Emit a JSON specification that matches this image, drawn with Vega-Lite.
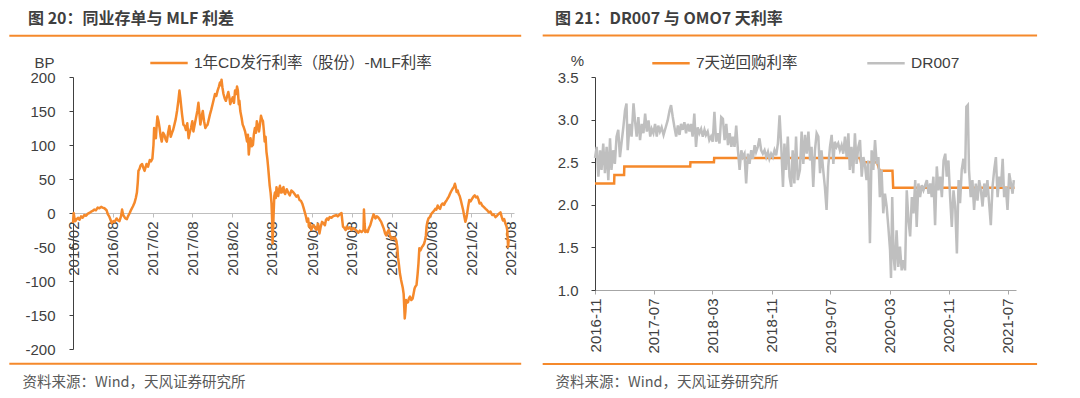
{
  "$schema": "https://vega.github.io/schema/vega-lite/v6.json",
  "background": "white",
  "padding": {"left": 8, "top": 10, "right": 5, "bottom": 5},
  "spacing": 18,
  "config": {
    "locale": {"number": {"decimal": ".", "thousands": ",", "grouping": [3], "currency": ["", ""], "minus": "-"}},
    "view": {"stroke": null},
    "axis": {"grid": false, "labelFont": "Liberation Sans", "labelColor": "#404040", "labelFontSize": 15, "labelFlush": false, "labelOverlap": false}
  },
  "resolve": {"scale": {"color": "independent"}, "legend": {"color": "independent"}},
  "datasets": {
    "cd": [
      {"d":"2016-02-01","v":-15},{"d":"2016-02-04","v":0},{"d":"2016-02-08","v":-8},{"d":"2016-02-12","v":-12},{"d":"2016-02-18","v":-9},{"d":"2016-02-24","v":-7},{"d":"2016-03-02","v":-10},{"d":"2016-03-09","v":-5},{"d":"2016-03-16","v":-7},{"d":"2016-03-24","v":-3},{"d":"2016-04-01","v":-4},{"d":"2016-04-09","v":-1},{"d":"2016-04-16","v":0},{"d":"2016-04-24","v":2},{"d":"2016-05-01","v":3},{"d":"2016-05-09","v":5},{"d":"2016-05-16","v":4},{"d":"2016-05-24","v":8},{"d":"2016-06-01","v":7},{"d":"2016-06-09","v":9},{"d":"2016-06-16","v":8},{"d":"2016-06-24","v":7},{"d":"2016-07-04","v":4},{"d":"2016-07-10","v":-2},{"d":"2016-07-16","v":-5},{"d":"2016-07-22","v":-10},{"d":"2016-07-28","v":-15},{"d":"2016-08-04","v":-12},{"d":"2016-08-10","v":-13},{"d":"2016-08-19","v":-8},{"d":"2016-08-26","v":-11},{"d":"2016-09-01","v":-12},{"d":"2016-09-08","v":-5},{"d":"2016-09-13","v":5},{"d":"2016-09-18","v":-3},{"d":"2016-09-28","v":-8},{"d":"2016-10-05","v":-9},{"d":"2016-10-10","v":-5},{"d":"2016-10-18","v":0},{"d":"2016-10-25","v":5},{"d":"2016-11-02","v":10},{"d":"2016-11-09","v":15},{"d":"2016-11-15","v":22},{"d":"2016-11-20","v":30},{"d":"2016-11-24","v":45},{"d":"2016-11-27","v":62},{"d":"2016-12-02","v":65},{"d":"2016-12-07","v":70},{"d":"2016-12-14","v":72},{"d":"2016-12-20","v":66},{"d":"2016-12-25","v":62},{"d":"2017-01-03","v":72},{"d":"2017-01-10","v":68},{"d":"2017-01-18","v":78},{"d":"2017-01-24","v":76},{"d":"2017-01-30","v":80},{"d":"2017-02-04","v":100},{"d":"2017-02-07","v":125},{"d":"2017-02-11","v":118},{"d":"2017-02-15","v":110},{"d":"2017-02-19","v":130},{"d":"2017-02-22","v":142},{"d":"2017-02-27","v":135},{"d":"2017-03-04","v":125},{"d":"2017-03-09","v":112},{"d":"2017-03-14","v":105},{"d":"2017-03-20","v":118},{"d":"2017-03-26","v":115},{"d":"2017-04-01","v":108},{"d":"2017-04-06","v":105},{"d":"2017-04-12","v":118},{"d":"2017-04-18","v":128},{"d":"2017-04-24","v":112},{"d":"2017-04-30","v":118},{"d":"2017-05-05","v":122},{"d":"2017-05-11","v":130},{"d":"2017-05-17","v":138},{"d":"2017-05-23","v":150},{"d":"2017-05-29","v":165},{"d":"2017-06-03","v":180},{"d":"2017-06-07","v":170},{"d":"2017-06-10","v":160},{"d":"2017-06-15","v":145},{"d":"2017-06-21","v":130},{"d":"2017-06-27","v":128},{"d":"2017-07-03","v":122},{"d":"2017-07-09","v":132},{"d":"2017-07-15","v":110},{"d":"2017-07-20","v":118},{"d":"2017-07-26","v":125},{"d":"2017-08-01","v":135},{"d":"2017-08-06","v":120},{"d":"2017-08-12","v":130},{"d":"2017-08-18","v":140},{"d":"2017-08-24","v":150},{"d":"2017-08-29","v":162},{"d":"2017-09-03","v":145},{"d":"2017-09-07","v":130},{"d":"2017-09-13","v":142},{"d":"2017-09-18","v":150},{"d":"2017-09-24","v":135},{"d":"2017-09-30","v":125},{"d":"2017-10-05","v":128},{"d":"2017-10-10","v":130},{"d":"2017-10-16","v":138},{"d":"2017-10-21","v":145},{"d":"2017-10-27","v":152},{"d":"2017-11-02","v":160},{"d":"2017-11-08","v":168},{"d":"2017-11-13","v":175},{"d":"2017-11-19","v":172},{"d":"2017-11-25","v":180},{"d":"2017-12-01","v":186},{"d":"2017-12-06","v":192},{"d":"2017-12-10","v":188},{"d":"2017-12-13","v":196},{"d":"2017-12-17","v":185},{"d":"2017-12-22","v":175},{"d":"2017-12-28","v":168},{"d":"2018-01-02","v":165},{"d":"2018-01-08","v":172},{"d":"2018-01-13","v":178},{"d":"2018-01-18","v":170},{"d":"2018-01-22","v":160},{"d":"2018-01-28","v":166},{"d":"2018-02-02","v":170},{"d":"2018-02-08","v":162},{"d":"2018-02-13","v":180},{"d":"2018-02-18","v":175},{"d":"2018-02-22","v":186},{"d":"2018-02-26","v":180},{"d":"2018-03-02","v":160},{"d":"2018-03-05","v":165},{"d":"2018-03-09","v":150},{"d":"2018-03-15","v":140},{"d":"2018-03-20","v":130},{"d":"2018-03-25","v":126},{"d":"2018-03-31","v":120},{"d":"2018-04-05","v":112},{"d":"2018-04-09","v":105},{"d":"2018-04-13","v":115},{"d":"2018-04-17","v":86},{"d":"2018-04-21","v":100},{"d":"2018-04-25","v":110},{"d":"2018-04-30","v":98},{"d":"2018-05-06","v":100},{"d":"2018-05-10","v":115},{"d":"2018-05-15","v":125},{"d":"2018-05-20","v":118},{"d":"2018-05-24","v":135},{"d":"2018-05-29","v":128},{"d":"2018-06-03","v":120},{"d":"2018-06-08","v":132},{"d":"2018-06-12","v":143},{"d":"2018-06-16","v":138},{"d":"2018-06-21","v":135},{"d":"2018-06-25","v":122},{"d":"2018-06-29","v":105},{"d":"2018-07-03","v":112},{"d":"2018-07-07","v":90},{"d":"2018-07-11","v":80},{"d":"2018-07-14","v":70},{"d":"2018-07-18","v":55},{"d":"2018-07-22","v":40},{"d":"2018-07-26","v":30},{"d":"2018-07-30","v":15},{"d":"2018-08-02","v":-10},{"d":"2018-08-04","v":-45},{"d":"2018-08-07","v":-20},{"d":"2018-08-09","v":0},{"d":"2018-08-12","v":25},{"d":"2018-08-15","v":30},{"d":"2018-08-19","v":22},{"d":"2018-08-22","v":38},{"d":"2018-08-26","v":28},{"d":"2018-08-30","v":25},{"d":"2018-09-03","v":35},{"d":"2018-09-07","v":40},{"d":"2018-09-11","v":30},{"d":"2018-09-15","v":30},{"d":"2018-09-19","v":36},{"d":"2018-09-23","v":38},{"d":"2018-09-27","v":30},{"d":"2018-10-01","v":28},{"d":"2018-10-08","v":35},{"d":"2018-10-15","v":30},{"d":"2018-10-22","v":26},{"d":"2018-10-29","v":33},{"d":"2018-11-06","v":31},{"d":"2018-11-13","v":28},{"d":"2018-11-21","v":24},{"d":"2018-11-28","v":26},{"d":"2018-12-06","v":19},{"d":"2018-12-12","v":18},{"d":"2018-12-18","v":14},{"d":"2018-12-24","v":8},{"d":"2018-12-29","v":2},{"d":"2019-01-04","v":-5},{"d":"2019-01-09","v":-13},{"d":"2019-01-14","v":-8},{"d":"2019-01-18","v":-20},{"d":"2019-01-23","v":-15},{"d":"2019-01-28","v":-25},{"d":"2019-02-04","v":-20},{"d":"2019-02-09","v":-18},{"d":"2019-02-15","v":-22},{"d":"2019-02-21","v":-25},{"d":"2019-03-01","v":-16},{"d":"2019-03-07","v":-30},{"d":"2019-03-13","v":-20},{"d":"2019-03-19","v":-13},{"d":"2019-03-25","v":-15},{"d":"2019-04-01","v":-18},{"d":"2019-04-06","v":-10},{"d":"2019-04-11","v":-8},{"d":"2019-04-17","v":-10},{"d":"2019-04-23","v":-6},{"d":"2019-05-01","v":-7},{"d":"2019-05-08","v":-5},{"d":"2019-05-15","v":-4},{"d":"2019-05-23","v":-3},{"d":"2019-05-30","v":-5},{"d":"2019-06-08","v":-2},{"d":"2019-06-16","v":0},{"d":"2019-06-20","v":-12},{"d":"2019-06-23","v":-20},{"d":"2019-06-29","v":-22},{"d":"2019-07-05","v":-25},{"d":"2019-07-10","v":-20},{"d":"2019-07-16","v":-23},{"d":"2019-07-24","v":-21},{"d":"2019-08-01","v":-25},{"d":"2019-08-08","v":-22},{"d":"2019-08-16","v":-24},{"d":"2019-08-24","v":-26},{"d":"2019-09-01","v":-29},{"d":"2019-09-08","v":-26},{"d":"2019-09-16","v":-28},{"d":"2019-09-25","v":-25},{"d":"2019-09-27","v":5},{"d":"2019-09-30","v":-15},{"d":"2019-10-03","v":-28},{"d":"2019-10-09","v":-26},{"d":"2019-10-14","v":-28},{"d":"2019-10-20","v":-22},{"d":"2019-10-26","v":-18},{"d":"2019-11-02","v":-10},{"d":"2019-11-10","v":-2},{"d":"2019-11-15","v":-5},{"d":"2019-11-19","v":-8},{"d":"2019-11-25","v":-5},{"d":"2019-11-30","v":-6},{"d":"2019-12-07","v":-9},{"d":"2019-12-15","v":-13},{"d":"2019-12-21","v":-18},{"d":"2019-12-27","v":-23},{"d":"2020-01-02","v":-30},{"d":"2020-01-07","v":-33},{"d":"2020-01-13","v":-28},{"d":"2020-01-19","v":-25},{"d":"2020-01-24","v":-32},{"d":"2020-01-30","v":-38},{"d":"2020-02-05","v":-36},{"d":"2020-02-10","v":-38},{"d":"2020-02-16","v":-36},{"d":"2020-02-22","v":-40},{"d":"2020-02-27","v":-50},{"d":"2020-03-01","v":-65},{"d":"2020-03-05","v":-75},{"d":"2020-03-10","v":-89},{"d":"2020-03-15","v":-98},{"d":"2020-03-19","v":-104},{"d":"2020-03-23","v":-110},{"d":"2020-03-27","v":-119},{"d":"2020-03-30","v":-140},{"d":"2020-04-01","v":-155},{"d":"2020-04-04","v":-145},{"d":"2020-04-07","v":-128},{"d":"2020-04-11","v":-132},{"d":"2020-04-16","v":-131},{"d":"2020-04-20","v":-126},{"d":"2020-04-25","v":-123},{"d":"2020-05-01","v":-128},{"d":"2020-05-07","v":-126},{"d":"2020-05-12","v":-118},{"d":"2020-05-16","v":-111},{"d":"2020-05-20","v":-108},{"d":"2020-05-25","v":-106},{"d":"2020-05-30","v":-90},{"d":"2020-06-03","v":-74},{"d":"2020-06-07","v":-52},{"d":"2020-06-12","v":-55},{"d":"2020-06-19","v":-50},{"d":"2020-06-24","v":-48},{"d":"2020-06-29","v":-45},{"d":"2020-07-03","v":-40},{"d":"2020-07-07","v":-33},{"d":"2020-07-10","v":-20},{"d":"2020-07-14","v":-13},{"d":"2020-07-19","v":-8},{"d":"2020-07-25","v":-6},{"d":"2020-07-31","v":-2},{"d":"2020-08-07","v":1},{"d":"2020-08-13","v":3},{"d":"2020-08-19","v":6},{"d":"2020-08-24","v":5},{"d":"2020-08-30","v":11},{"d":"2020-09-04","v":8},{"d":"2020-09-10","v":6},{"d":"2020-09-16","v":12},{"d":"2020-09-22","v":14},{"d":"2020-09-28","v":12},{"d":"2020-10-04","v":16},{"d":"2020-10-09","v":18},{"d":"2020-10-14","v":21},{"d":"2020-10-20","v":24},{"d":"2020-10-25","v":28},{"d":"2020-10-31","v":32},{"d":"2020-11-07","v":36},{"d":"2020-11-12","v":38},{"d":"2020-11-17","v":43},{"d":"2020-11-21","v":38},{"d":"2020-11-25","v":31},{"d":"2020-11-30","v":33},{"d":"2020-12-04","v":28},{"d":"2020-12-09","v":25},{"d":"2020-12-14","v":19},{"d":"2020-12-19","v":12},{"d":"2020-12-25","v":4},{"d":"2020-12-30","v":-5},{"d":"2021-01-04","v":-13},{"d":"2021-01-08","v":-8},{"d":"2021-01-11","v":-3},{"d":"2021-01-16","v":8},{"d":"2021-01-22","v":19},{"d":"2021-01-28","v":17},{"d":"2021-02-04","v":21},{"d":"2021-02-10","v":24},{"d":"2021-02-16","v":26},{"d":"2021-02-22","v":23},{"d":"2021-02-28","v":24},{"d":"2021-03-05","v":20},{"d":"2021-03-10","v":14},{"d":"2021-03-16","v":15},{"d":"2021-03-22","v":11},{"d":"2021-03-29","v":9},{"d":"2021-04-07","v":6},{"d":"2021-04-14","v":4},{"d":"2021-04-22","v":1},{"d":"2021-04-29","v":2},{"d":"2021-05-07","v":-3},{"d":"2021-05-14","v":-2},{"d":"2021-05-22","v":-6},{"d":"2021-05-29","v":-4},{"d":"2021-06-07","v":-1},{"d":"2021-06-14","v":1},{"d":"2021-06-19","v":-5},{"d":"2021-06-25","v":-11},{"d":"2021-07-01","v":-9},{"d":"2021-07-07","v":-16},{"d":"2021-07-12","v":-20},{"d":"2021-07-15","v":-25},{"d":"2021-07-19","v":-50},{"d":"2021-07-22","v":-38}
    ],
    "omo": [
      {"d":"2016-11-15","v":2.25},{"d":"2017-02-02","v":2.25},{"d":"2017-02-03","v":2.35},{"d":"2017-03-15","v":2.35},{"d":"2017-03-16","v":2.45},{"d":"2017-12-13","v":2.45},{"d":"2017-12-14","v":2.5},{"d":"2018-03-21","v":2.5},{"d":"2018-03-22","v":2.55},{"d":"2019-11-15","v":2.55},{"d":"2019-11-18","v":2.5},{"d":"2020-01-23","v":2.5},{"d":"2020-02-03","v":2.4},{"d":"2020-03-27","v":2.4},{"d":"2020-03-30","v":2.2},{"d":"2021-08-13","v":2.2}
    ],
    "dr": [
      {"d":"2016-11-15","v":2.55},{"d":"2016-11-22","v":2.68},{"d":"2016-11-29","v":2.33},{"d":"2016-12-06","v":2.64},{"d":"2016-12-12","v":2.41},{"d":"2016-12-19","v":2.72},{"d":"2016-12-26","v":2.37},{"d":"2017-01-02","v":2.68},{"d":"2017-01-09","v":2.29},{"d":"2017-01-16","v":2.78},{"d":"2017-01-22","v":2.41},{"d":"2017-01-29","v":2.64},{"d":"2017-02-05","v":2.48},{"d":"2017-02-12","v":2.8},{"d":"2017-02-19","v":2.88},{"d":"2017-02-26","v":2.56},{"d":"2017-03-05","v":2.74},{"d":"2017-03-12","v":2.91},{"d":"2017-03-19","v":3.11},{"d":"2017-03-25","v":3.19},{"d":"2017-03-30","v":2.64},{"d":"2017-04-07","v":2.95},{"d":"2017-04-15","v":2.8},{"d":"2017-04-23","v":3.19},{"d":"2017-04-29","v":2.99},{"d":"2017-05-06","v":2.8},{"d":"2017-05-13","v":3.03},{"d":"2017-05-20","v":2.76},{"d":"2017-05-27","v":2.95},{"d":"2017-06-03","v":2.84},{"d":"2017-06-10","v":3.07},{"d":"2017-06-17","v":2.86},{"d":"2017-06-24","v":2.99},{"d":"2017-07-01","v":2.8},{"d":"2017-07-07","v":2.89},{"d":"2017-07-14","v":2.84},{"d":"2017-07-21","v":2.95},{"d":"2017-07-28","v":2.8},{"d":"2017-08-03","v":2.93},{"d":"2017-08-10","v":2.86},{"d":"2017-08-17","v":2.91},{"d":"2017-08-25","v":2.82},{"d":"2017-09-03","v":2.91},{"d":"2017-09-11","v":2.99},{"d":"2017-09-19","v":3.11},{"d":"2017-09-25","v":3.17},{"d":"2017-10-02","v":3.03},{"d":"2017-10-09","v":2.91},{"d":"2017-10-16","v":2.8},{"d":"2017-10-23","v":2.93},{"d":"2017-10-30","v":2.82},{"d":"2017-11-05","v":2.95},{"d":"2017-11-12","v":2.88},{"d":"2017-11-19","v":2.97},{"d":"2017-11-26","v":2.84},{"d":"2017-12-03","v":2.95},{"d":"2017-12-10","v":2.86},{"d":"2017-12-16","v":2.95},{"d":"2017-12-23","v":2.8},{"d":"2017-12-30","v":3.07},{"d":"2018-01-06","v":2.68},{"d":"2018-01-13","v":2.91},{"d":"2018-01-20","v":2.84},{"d":"2018-01-27","v":2.89},{"d":"2018-02-03","v":2.8},{"d":"2018-02-10","v":2.88},{"d":"2018-02-16","v":2.82},{"d":"2018-02-23","v":2.86},{"d":"2018-03-02","v":2.76},{"d":"2018-03-09","v":2.8},{"d":"2018-03-16","v":2.74},{"d":"2018-03-23","v":3.09},{"d":"2018-03-30","v":2.74},{"d":"2018-04-06","v":2.84},{"d":"2018-04-13","v":2.72},{"d":"2018-04-20","v":3.03},{"d":"2018-04-27","v":3.01},{"d":"2018-05-04","v":2.76},{"d":"2018-05-11","v":2.95},{"d":"2018-05-18","v":2.7},{"d":"2018-05-25","v":2.84},{"d":"2018-06-01","v":2.68},{"d":"2018-06-07","v":2.8},{"d":"2018-06-14","v":2.68},{"d":"2018-06-21","v":2.93},{"d":"2018-06-28","v":2.64},{"d":"2018-07-05","v":2.41},{"d":"2018-07-12","v":2.64},{"d":"2018-07-18","v":2.56},{"d":"2018-07-25","v":2.6},{"d":"2018-08-01","v":2.25},{"d":"2018-08-08","v":2.6},{"d":"2018-08-15","v":2.48},{"d":"2018-08-22","v":2.64},{"d":"2018-08-29","v":2.54},{"d":"2018-09-05","v":2.7},{"d":"2018-09-11","v":2.62},{"d":"2018-09-18","v":2.68},{"d":"2018-09-25","v":2.78},{"d":"2018-10-02","v":2.64},{"d":"2018-10-09","v":2.6},{"d":"2018-10-16","v":2.64},{"d":"2018-10-23","v":2.56},{"d":"2018-10-30","v":2.62},{"d":"2018-11-05","v":2.54},{"d":"2018-11-12","v":2.6},{"d":"2018-11-19","v":2.56},{"d":"2018-11-26","v":2.64},{"d":"2018-12-03","v":2.58},{"d":"2018-12-10","v":2.72},{"d":"2018-12-17","v":3.05},{"d":"2018-12-24","v":2.68},{"d":"2018-12-31","v":2.21},{"d":"2019-01-06","v":2.72},{"d":"2019-01-13","v":2.41},{"d":"2019-01-20","v":2.8},{"d":"2019-01-27","v":2.33},{"d":"2019-02-03","v":2.21},{"d":"2019-02-09","v":2.64},{"d":"2019-02-16","v":2.25},{"d":"2019-02-23","v":2.8},{"d":"2019-03-02","v":2.29},{"d":"2019-03-11","v":2.41},{"d":"2019-03-18","v":2.86},{"d":"2019-03-25","v":2.48},{"d":"2019-04-01","v":2.82},{"d":"2019-04-08","v":2.6},{"d":"2019-04-15","v":2.86},{"d":"2019-04-22","v":2.52},{"d":"2019-04-28","v":2.68},{"d":"2019-05-05","v":2.21},{"d":"2019-05-12","v":2.64},{"d":"2019-05-19","v":2.84},{"d":"2019-05-26","v":2.8},{"d":"2019-06-02","v":2.37},{"d":"2019-06-08","v":2.64},{"d":"2019-06-15","v":2.41},{"d":"2019-06-22","v":2.21},{"d":"2019-06-29","v":1.94},{"d":"2019-07-06","v":2.45},{"d":"2019-07-13","v":2.68},{"d":"2019-07-20","v":2.82},{"d":"2019-07-27","v":2.48},{"d":"2019-08-02","v":2.74},{"d":"2019-08-09","v":2.68},{"d":"2019-08-16","v":2.72},{"d":"2019-08-23","v":2.64},{"d":"2019-08-30","v":2.7},{"d":"2019-09-06","v":2.6},{"d":"2019-09-13","v":2.8},{"d":"2019-09-20","v":2.56},{"d":"2019-09-27","v":2.84},{"d":"2019-10-03","v":2.41},{"d":"2019-10-10","v":2.68},{"d":"2019-10-17","v":2.37},{"d":"2019-10-24","v":2.84},{"d":"2019-10-31","v":2.48},{"d":"2019-11-07","v":2.68},{"d":"2019-11-14","v":2.76},{"d":"2019-11-21","v":2.33},{"d":"2019-11-28","v":2.56},{"d":"2019-12-04","v":2.48},{"d":"2019-12-11","v":2.29},{"d":"2019-12-18","v":2.52},{"d":"2019-12-25","v":1.55},{"d":"2020-01-01","v":2.64},{"d":"2020-01-08","v":2.41},{"d":"2020-01-15","v":2.76},{"d":"2020-01-22","v":2.48},{"d":"2020-01-29","v":2.56},{"d":"2020-02-04","v":2.09},{"d":"2020-02-11","v":2.41},{"d":"2020-02-18","v":1.9},{"d":"2020-02-25","v":2.13},{"d":"2020-03-03","v":1.98},{"d":"2020-03-10","v":1.74},{"d":"2020-03-17","v":1.47},{"d":"2020-03-21","v":1.14},{"d":"2020-03-26","v":2.09},{"d":"2020-04-01","v":1.39},{"d":"2020-04-06","v":1.23},{"d":"2020-04-13","v":1.7},{"d":"2020-04-20","v":1.27},{"d":"2020-04-27","v":1.51},{"d":"2020-05-04","v":1.23},{"d":"2020-05-11","v":1.35},{"d":"2020-05-18","v":1.23},{"d":"2020-05-25","v":2.17},{"d":"2020-06-01","v":1.82},{"d":"2020-06-08","v":1.63},{"d":"2020-06-15","v":2.09},{"d":"2020-06-22","v":1.9},{"d":"2020-06-29","v":2.29},{"d":"2020-07-05","v":1.74},{"d":"2020-07-12","v":2.25},{"d":"2020-07-19","v":2.09},{"d":"2020-07-26","v":2.23},{"d":"2020-08-02","v":2.17},{"d":"2020-08-09","v":2.23},{"d":"2020-08-16","v":2.29},{"d":"2020-08-23","v":2.13},{"d":"2020-08-30","v":2.25},{"d":"2020-09-05","v":2.09},{"d":"2020-09-12","v":2.33},{"d":"2020-09-19","v":1.76},{"d":"2020-09-26","v":2.45},{"d":"2020-10-03","v":2.17},{"d":"2020-10-10","v":2.33},{"d":"2020-10-17","v":2.09},{"d":"2020-10-24","v":2.52},{"d":"2020-10-31","v":2.6},{"d":"2020-11-06","v":2.33},{"d":"2020-11-13","v":2.52},{"d":"2020-11-20","v":2.09},{"d":"2020-11-27","v":1.74},{"d":"2020-12-04","v":2.17},{"d":"2020-12-11","v":1.98},{"d":"2020-12-18","v":1.43},{"d":"2020-12-25","v":2.29},{"d":"2020-12-31","v":2.02},{"d":"2021-01-07","v":2.41},{"d":"2021-01-14","v":2.54},{"d":"2021-01-21","v":2.37},{"d":"2021-01-26","v":3.15},{"d":"2021-02-01","v":3.17},{"d":"2021-02-06","v":2.41},{"d":"2021-02-13","v":2.09},{"d":"2021-02-20","v":2.29},{"d":"2021-02-27","v":1.94},{"d":"2021-03-06","v":2.25},{"d":"2021-03-13","v":2.05},{"d":"2021-03-20","v":2.29},{"d":"2021-03-27","v":2.17},{"d":"2021-04-03","v":1.98},{"d":"2021-04-10","v":2.25},{"d":"2021-04-16","v":2.09},{"d":"2021-04-23","v":2.29},{"d":"2021-04-30","v":2.02},{"d":"2021-05-07","v":1.76},{"d":"2021-05-14","v":2.21},{"d":"2021-05-21","v":2.41},{"d":"2021-05-28","v":2.56},{"d":"2021-06-04","v":2.09},{"d":"2021-06-11","v":2.33},{"d":"2021-06-18","v":2.21},{"d":"2021-06-25","v":2.54},{"d":"2021-07-01","v":2.09},{"d":"2021-07-08","v":2.21},{"d":"2021-07-15","v":1.94},{"d":"2021-07-22","v":2.37},{"d":"2021-07-29","v":2.25},{"d":"2021-08-05","v":2.13},{"d":"2021-08-10","v":2.29}
    ]
  },
  "hconcat": [
    {
      "width": 441,
      "height": 272,
      "title": {"text": "图 20：同业存单与 MLF 利差", "anchor": "start", "frame": "group", "dx": -45, "offset": 8, "font": "Noto Sans CJK SC", "fontSize": 16, "fontWeight": "bold", "color": "#3F3F3F"},
      "layer": [
        {
          "data": {"name": "cd"},
          "mark": {"type": "line", "strokeWidth": 2.5, "strokeJoin": "round"},
          "encoding": {
            "x": {"field": "d", "type": "temporal",
              "scale": {"type": "utc", "domain": [{"year": 2016, "month": 2, "date": 1, "utc": true}, {"year": 2021, "month": 8, "date": 15, "utc": true}], "nice": false},
              "axis": {
                "values": [{"year": 2016, "month": 2, "date": 1, "utc": true}, {"year": 2016, "month": 8, "date": 1, "utc": true}, {"year": 2017, "month": 2, "date": 1, "utc": true}, {"year": 2017, "month": 8, "date": 1, "utc": true}, {"year": 2018, "month": 2, "date": 1, "utc": true}, {"year": 2018, "month": 8, "date": 1, "utc": true}, {"year": 2019, "month": 2, "date": 1, "utc": true}, {"year": 2019, "month": 8, "date": 1, "utc": true}, {"year": 2020, "month": 2, "date": 1, "utc": true}, {"year": 2020, "month": 8, "date": 1, "utc": true}, {"year": 2021, "month": 2, "date": 1, "utc": true}, {"year": 2021, "month": 8, "date": 1, "utc": true}],
                "format": "%Y/%m", "labelAngle": -90, "offset": -136, "domainColor": "#BFBFBF", "tickColor": "#BFBFBF", "tickSize": 4, "labelPadding": 4,
                "title": "资料来源：Wind，天风证券研究所", "titleX": -51, "titleY": 169, "titleAlign": "left", "titleBaseline": "middle", "titleAngle": 0,
                "titleFont": "Noto Sans CJK SC", "titleFontSize": 14.5, "titleFontWeight": "normal", "titleColor": "#595959"
              }
            },
            "y": {"field": "v", "type": "quantitative",
              "scale": {"domain": [-200, 200], "nice": false, "zero": false},
              "axis": {
                "values": [-200, -150, -100, -50, 0, 50, 100, 150, 200],
                "domainColor": "#404040", "tickColor": "#404040", "tickSize": 4, "labelPadding": 14,
                "title": "BP", "titleAngle": 0, "titleX": -29, "titleY": -15, "titleAlign": "center", "titleBaseline": "middle",
                "titleFont": "Liberation Sans", "titleFontSize": 15, "titleFontWeight": "normal", "titleColor": "#404040"
              }
            },
            "color": {"datum": "1年CD发行利率（股份）-MLF利率", "scale": {"range": ["#F5892B"]},
              "legend": {"orient": "none", "legendX": 76, "legendY": -34, "title": null, "direction": "horizontal", "symbolType": "stroke", "symbolSize": 1400, "symbolStrokeWidth": 2.5, "labelFont": "Liberation Sans, Noto Sans CJK SC", "labelFontSize": 15.5, "labelColor": "#404040", "labelOffset": 5, "labelLimit": 400}
            }
          }
        },
        {
          "data": {"values": [{}]},
          "mark": {"type": "rule", "color": "#F5892B", "strokeWidth": 2},
          "encoding": {
            "x": {"datum": {"year": 2015, "month": 4, "date": 15, "utc": true}, "type": "temporal"},
            "x2": {"datum": {"year": 2021, "month": 9, "date": 17, "utc": true}},
            "y": {"datum": 260.7, "type": "quantitative", "axis": {"values": [-200, -150, -100, -50, 0, 50, 100, 150, 200]}}
          }
        },
        {
          "data": {"values": [{}]},
          "mark": {"type": "rule", "color": "#F5892B", "strokeWidth": 2},
          "encoding": {
            "x": {"datum": {"year": 2015, "month": 4, "date": 15, "utc": true}, "type": "temporal"},
            "x2": {"datum": {"year": 2021, "month": 9, "date": 17, "utc": true}},
            "y": {"datum": -221.6, "type": "quantitative", "axis": {"values": [-200, -150, -100, -50, 0, 50, 100, 150, 200]}}
          }
        }
      ]
    },
    {
      "width": 421,
      "height": 213,
      "title": {"text": "图 21：DR007 与 OMO7 天利率", "anchor": "start", "frame": "group", "dx": -40, "offset": 8, "font": "Noto Sans CJK SC", "fontSize": 16, "fontWeight": "bold", "color": "#3F3F3F"},
      "layer": [
        {
          "data": {"name": "omo"},
          "mark": {"type": "line", "strokeWidth": 2.5},
          "encoding": {
            "x": {"field": "d", "type": "temporal",
              "scale": {"type": "utc", "domain": [{"year": 2016, "month": 11, "date": 15, "utc": true}, {"year": 2021, "month": 8, "date": 19, "utc": true}], "nice": false},
              "axis": {
                "values": [{"year": 2016, "month": 11, "date": 15, "utc": true}, {"year": 2017, "month": 7, "date": 15, "utc": true}, {"year": 2018, "month": 3, "date": 15, "utc": true}, {"year": 2018, "month": 11, "date": 15, "utc": true}, {"year": 2019, "month": 7, "date": 15, "utc": true}, {"year": 2020, "month": 3, "date": 15, "utc": true}, {"year": 2020, "month": 11, "date": 15, "utc": true}, {"year": 2021, "month": 7, "date": 15, "utc": true}],
                "format": "%Y-%m", "labelAngle": -90, "domainColor": "#A6A6A6", "tickColor": "#A6A6A6", "tickSize": 4, "labelPadding": 4,
                "title": "资料来源：Wind，天风证券研究所", "titleX": -40, "titleY": 92, "titleAlign": "left", "titleBaseline": "middle", "titleAngle": 0,
                "titleFont": "Noto Sans CJK SC", "titleFontSize": 14.5, "titleFontWeight": "normal", "titleColor": "#595959"
              }
            },
            "y": {"field": "v", "type": "quantitative",
              "scale": {"domain": [1, 3.5], "nice": false, "zero": false},
              "axis": {
                "values": [1, 1.5, 2, 2.5, 3, 3.5], "format": ".1f",
                "domainColor": "#404040", "tickColor": "#404040", "tickSize": 4, "labelPadding": 13,
                "title": "%", "titleAngle": 0, "titleX": -18, "titleY": -17, "titleAlign": "center", "titleBaseline": "middle",
                "titleFont": "Liberation Sans", "titleFontSize": 15, "titleFontWeight": "normal", "titleColor": "#404040"
              }
            },
            "color": {"datum": "7天逆回购利率", "scale": {"domain": ["7天逆回购利率", "DR007"], "range": ["#F5892B", "#BFBFBF"]},
              "legend": {"orient": "none", "legendX": 56, "legendY": -34, "title": null, "direction": "horizontal", "symbolType": "stroke", "symbolSize": 1400, "symbolStrokeWidth": 2.5, "labelFont": "Liberation Sans, Noto Sans CJK SC", "labelFontSize": 15.5, "labelColor": "#404040", "labelOffset": 5, "labelLimit": 400, "columnPadding": 64}
            }
          }
        },
        {
          "data": {"name": "dr"},
          "mark": {"type": "line", "strokeWidth": 2.5},
          "encoding": {
            "x": {"field": "d", "type": "temporal"},
            "y": {"field": "v", "type": "quantitative"},
            "color": {"datum": "DR007"}
          }
        },
        {
          "data": {"values": [{}]},
          "mark": {"type": "rule", "color": "#F5892B", "strokeWidth": 2},
          "encoding": {
            "x": {"datum": {"year": 2016, "month": 4, "date": 13, "utc": true}, "type": "temporal"},
            "x2": {"datum": {"year": 2021, "month": 11, "date": 14, "utc": true}},
            "y": {"datum": 3.986, "type": "quantitative", "axis": {"values": [1, 1.5, 2, 2.5, 3, 3.5]}}
          }
        },
        {
          "data": {"values": [{}]},
          "mark": {"type": "rule", "color": "#F5892B", "strokeWidth": 2},
          "encoding": {
            "x": {"datum": {"year": 2016, "month": 4, "date": 13, "utc": true}, "type": "temporal"},
            "x2": {"datum": {"year": 2021, "month": 11, "date": 14, "utc": true}},
            "y": {"datum": 0.13, "type": "quantitative", "axis": {"values": [1, 1.5, 2, 2.5, 3, 3.5]}}
          }
        }
      ]
    }
  ]
}
